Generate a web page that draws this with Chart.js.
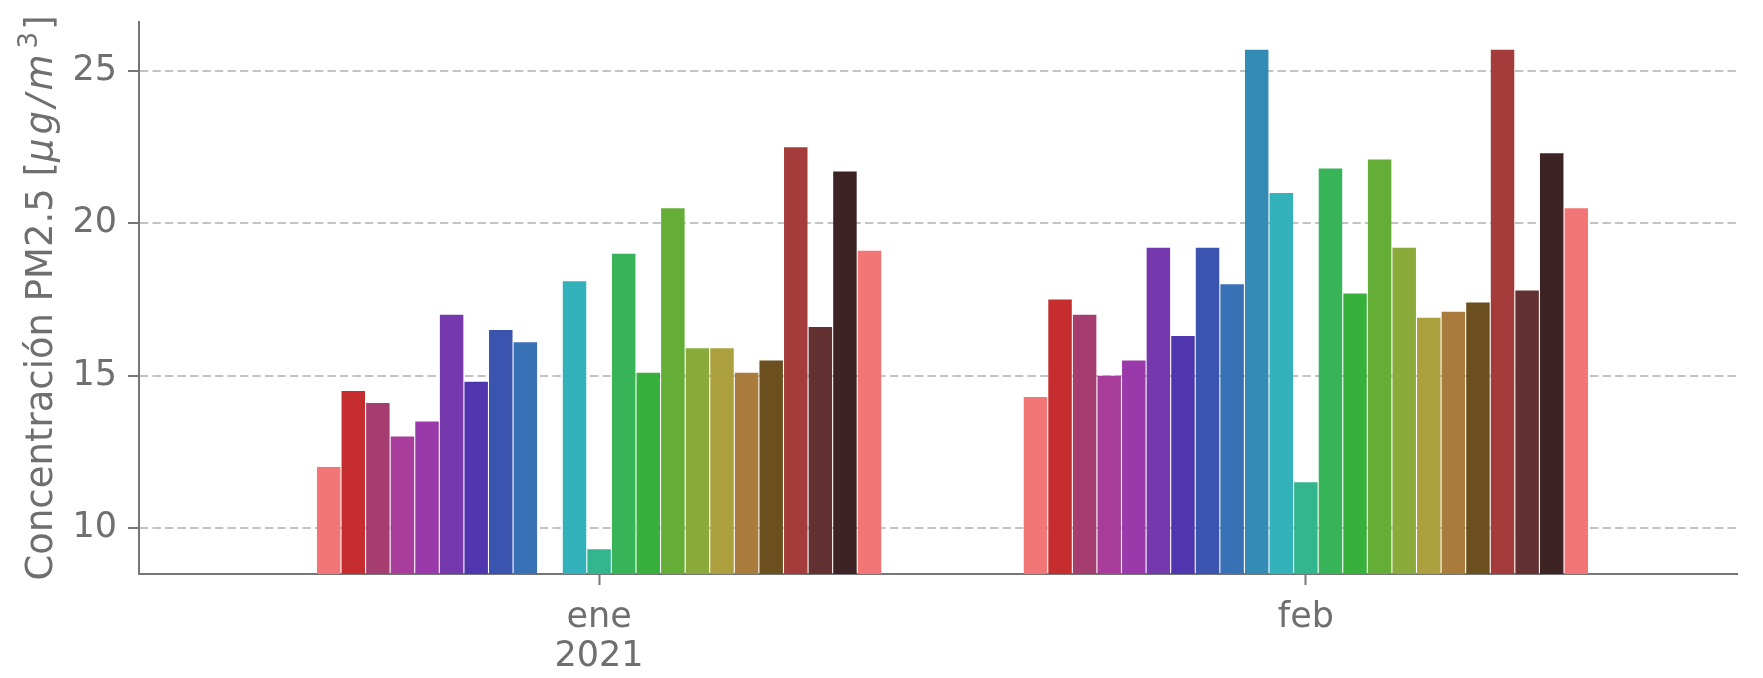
<!DOCTYPE html>
<html>
<head>
<meta charset="utf-8">
<script src="https://cdn.jsdelivr.net/npm/chart.js@4/dist/chart.umd.min.js"></script>
<style>
  body { margin: 0; background: #fff; }
</style>
</head>
<body>
<canvas id="chart" width="1763" height="678"></canvas>
<script>
// months on the x axis (0 = ene, 1 = feb)
const months = [0, 1]
const monthLabels = [['ene', '2021'], ['feb']]
const yTicks = [10, 15, 20, 25]

// one value per month for each of the 23 series (null = no bar)
const seriesValues = [
  [12.0, 14.3],
  [14.5, 17.5],
  [14.1, 17.0],
  [13.0, 15.0],
  [13.5, 15.5],
  [17.0, 19.2],
  [14.8, 16.3],
  [16.5, 19.2],
  [16.1, 18.0],
  [null, 25.7],
  [18.1, 21.0],
  [9.3, 11.5],
  [19.0, 21.8],
  [15.1, 17.7],
  [20.5, 22.1],
  [15.9, 19.2],
  [15.9, 16.9],
  [15.1, 17.1],
  [15.5, 17.4],
  [22.5, 25.7],
  [16.6, 17.8],
  [21.7, 22.3],
  [19.1, 20.5]
]

const seriesColors = [
  '#f37676', '#c62d2e', '#a63d70', '#a93d9b', '#9a3aaa', '#7639ad',
  '#5036ae', '#3b54af', '#3871b5', '#348bb6', '#33b2bb', '#33b58d',
  '#37b457', '#38b03c', '#64ae38', '#8aab3c', '#aba03d', '#a97b3d',
  '#6b4f1f', '#a43c3c', '#633131', '#3e2324', '#f37676'
]

// y label pieces: [text, italic, superscript]
const yTitleParts = [
  ['Concentración PM2.5 [', false, false],
  ['μ', true, false], ['g', true, false], ['/', true, false], ['m', true, false],
  ['3', false, true],
  [']', false, false]
]

const axisGray = '#767676'
const textGray = '#6f6f6f'

// draws the y label with the italic / superscript bits, like matplotlib mathtext
const yTitlePlugin = {
  id: 'yTitle',
  afterDraw(chart) {
    const { ctx, chartArea } = chart
    const size = 37
    const fontFor = (italic, sup) =>
      `${italic ? 'italic ' : ''}${sup ? Math.round(size * 0.7) : size}px "DejaVu Sans"`
    let total = 0
    const widths = yTitleParts.map(([t, it, sup]) => {
      ctx.font = fontFor(it, sup)
      const w = ctx.measureText(t).width + (it ? 4 : 0) + (sup ? 4 : 0)
      total += w
      return w
    })
    ctx.save()
    ctx.translate(52, (chartArea.top + chartArea.bottom) / 2 + total / 2)
    ctx.rotate(-Math.PI / 2)
    ctx.fillStyle = textGray
    ctx.textBaseline = 'alphabetic'
    let x = 0
    yTitleParts.forEach(([t, it, sup], i) => {
      ctx.font = fontFor(it, sup)
      ctx.fillText(t, x + (sup ? 2 : 0), sup ? -15 : 0)
      x += widths[i]
    })
    ctx.restore()
  }
}

const datasets = seriesValues.map((vals, i) => ({
  data: months.map((m, j) => ({ x: m, y: vals[j] })),
  backgroundColor: seriesColors[i],
  borderWidth: 0,
  categoryPercentage: 0.8,
  barPercentage: 0.955
}))

const ctx = document.getElementById('chart').getContext('2d')
new Chart(ctx, {
  type: 'bar',
  data: { datasets },
  plugins: [yTitlePlugin],
  options: {
    responsive: false,
    animation: false,
    devicePixelRatio: 1,
    layout: { padding: { top: 22, right: 26, left: 0, bottom: 0 } },
    plugins: { legend: { display: false }, tooltip: { enabled: false } },
    scales: {
      x: {
        type: 'linear',
        min: -0.651,
        max: 1.61,
        offset: false,
        afterBuildTicks: (scale) => { scale.ticks = months.map(v => ({ value: v })) },
        afterFit: (scale) => { scale.height = 104; scale.paddingLeft = 0; scale.paddingRight = 0 },
        ticks: {
          autoSkip: false,
          maxRotation: 0,
          padding: 13,
          color: textGray,
          font: { family: 'DejaVu Sans', size: 35, lineHeight: 1.12 },
          callback: (value, index) => monthLabels[index]
        },
        grid: {
          offset: false,
          drawOnChartArea: false,
          drawTicks: true,
          tickLength: 11,
          tickColor: axisGray,
          tickWidth: 2
        },
        border: { color: axisGray, width: 2 }
      },
      y: {
        min: 8.49,
        max: 26.61,
        z: 1,
        afterBuildTicks: (scale) => { scale.ticks = yTicks.map(v => ({ value: v })) },
        afterFit: (scale) => { scale.width = 139; scale.paddingTop = 0; scale.paddingBottom = 0 },
        ticks: {
          padding: 11,
          color: textGray,
          font: { family: 'DejaVu Sans', size: 35 }
        },
        grid: {
          color: 'rgba(170,170,170,0.7)',
          lineWidth: 2,
          tickLength: 11,
          tickColor: axisGray,
          tickWidth: 2,
          tickBorderDash: []
        },
        border: { color: axisGray, width: 2, dash: [8.3, 4.2] },
        title: { display: false }
      }
    }
  }
})
</script>
</body>
</html>
